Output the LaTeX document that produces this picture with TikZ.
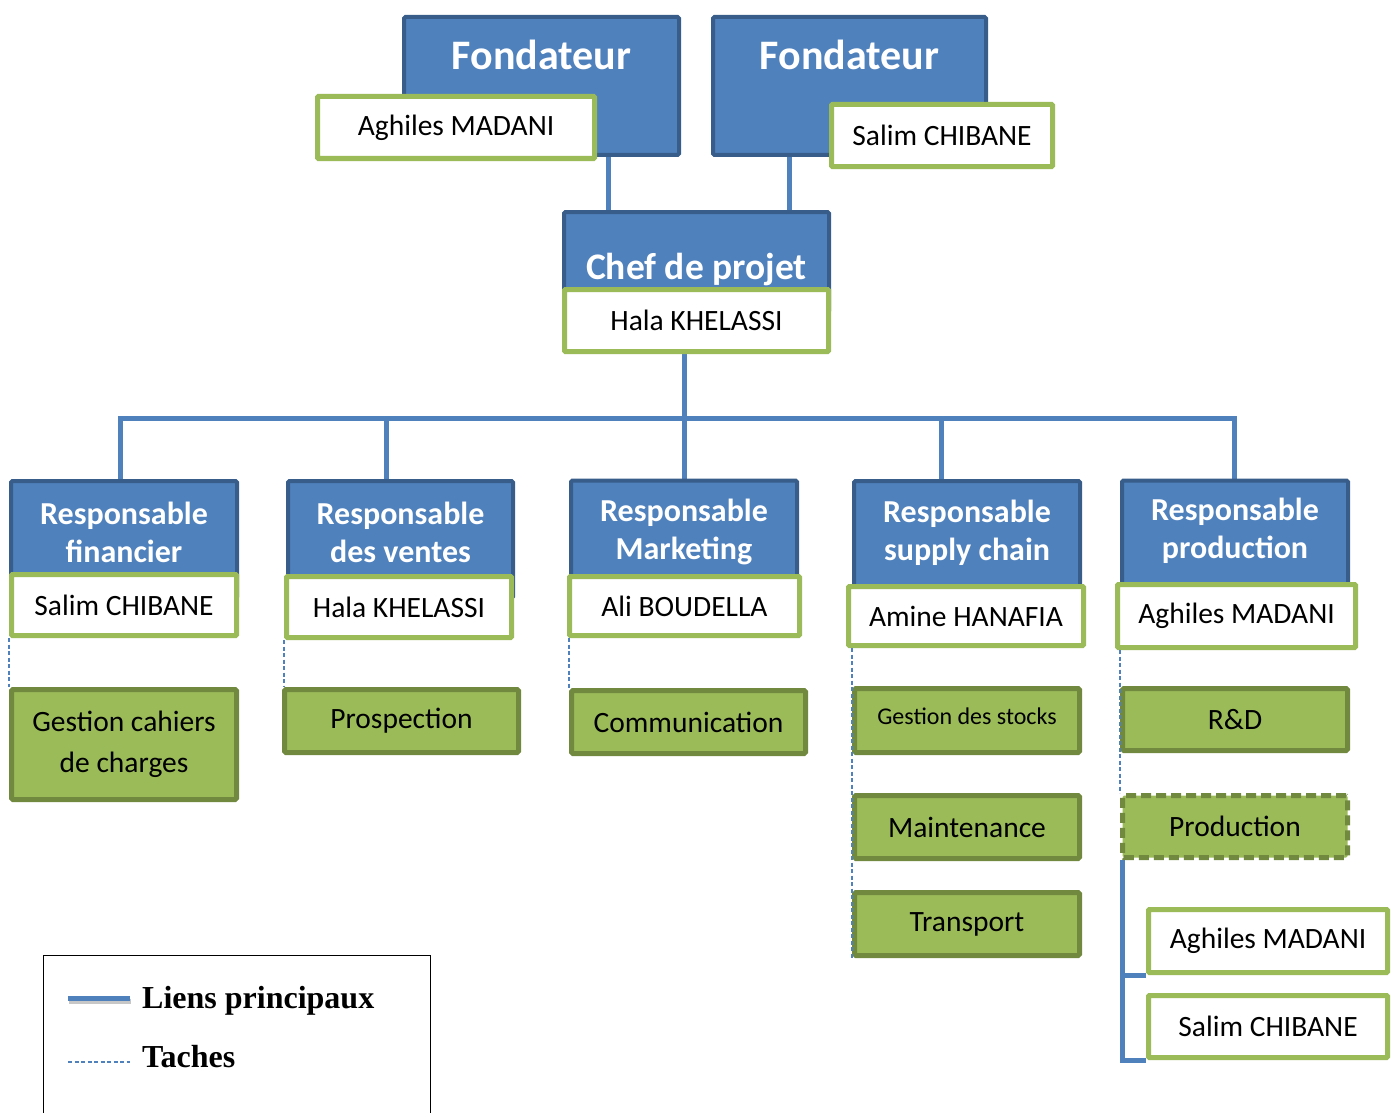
\documentclass[tikz,border=0pt]{standalone}
\usepackage{fontspec}
\setmainfont{Carlito}
\newfontfamily\legfont{Liberation Serif}
\usetikzlibrary{calc}
\definecolor{bfill}{HTML}{4F81BD}
\definecolor{bdark}{HTML}{385D8A}
\definecolor{gline}{HTML}{9BBB59}
\definecolor{tfill}{HTML}{9BBB59}
\definecolor{tdark}{HTML}{71893F}
\pgfdeclarelayer{bg}
\pgfsetlayers{bg,main}
\begin{document}
\begin{tikzpicture}[x=1pt,y=-1pt,
 bluebox/.style={draw=bdark, fill=bfill, line width=4pt, rounded corners=1.5pt, inner sep=0pt},
 namebox/.style={draw=gline, fill=white, line width=5pt, rounded corners=1pt, inner sep=0pt, font=\fontsize{29.5}{33}\selectfont},
 taskbox/.style={draw=tdark, fill=tfill, line width=5pt, rounded corners=1.5pt, inner sep=0pt, font=\fontsize{29.5}{41}\selectfont, align=center},
 btitle/.style={text=white, font=\bfseries\fontsize{32}{38}\selectfont, align=center, inner sep=0pt},
 bigtitle/.style={btitle, font=\bfseries\fontsize{42}{48}\selectfont},
 mainlink/.style={draw=bfill, line width=5pt},
 tasklink/.style={draw=bfill, line width=1.5pt, dash pattern=on 4pt off 2.5pt},
]
\useasboundingbox (0,0) rectangle (1400,1113);

% founders
\node[bluebox, minimum width=275, minimum height=138] (f1) at (541.5,86) {};
\node[bigtitle] (f1t) at (541.5,55) {Fondateur};
\node[bluebox, minimum width=273, minimum height=138] (f2) at (849.5,86) {};
\node[bigtitle] (f2t) at (849.5,55) {Fondateur};
\node[namebox, minimum width=277, minimum height=62] (n1) at (456,127.5) {Aghiles MADANI};
\node[namebox, minimum width=221, minimum height=62] (n2) at (942,135.5) {Salim CHIBANE};

% chef de projet
\node[bluebox, minimum width=265, minimum height=100] (chef) at (696.5,262) {};
\node[btitle, font=\bfseries\fontsize{37.5}{40}\selectfont] (cheft) at (696.5,270) {Chef de projet};
\node[namebox, minimum width=264, minimum height=62] (hala) at (696.5,320.5) {Hala KHELASSI};

% responsables
\node[bluebox, minimum width=226, minimum height=117] (r1) at (124,539.5) {};
\node[btitle] (r1t) at (124,532) {Responsable\\financier};
\node[namebox, minimum width=225, minimum height=61] (w1) at (124,605) {Salim CHIBANE};

\node[bluebox, minimum width=225, minimum height=117] (r2) at (400.5,539.5) {};
\node[btitle] (r2t) at (400.5,532) {Responsable\\des ventes};
\node[namebox, minimum width=225, minimum height=61] (w2) at (399,607) {Hala KHELASSI};

\node[bluebox, minimum width=226, minimum height=117] (r3) at (684,539) {};
\node[btitle] (r3t) at (684,532) {Responsable\\Marketing};
\node[namebox, minimum width=230, minimum height=59] (w3) at (684.5,606) {Ali BOUDELLA};

\node[bluebox, minimum width=226, minimum height=117] (r4) at (967,539.5) {};
\node[btitle] (r4t) at (967,533) {Responsable\\supply chain};
\node[namebox, minimum width=235, minimum height=59] (w4) at (966,616) {Amine HANAFIA};

\node[bluebox, minimum width=226, minimum height=117] (r5) at (1235,539) {};
\node[btitle] (r5t) at (1235,531) {Responsable\\production};
\node[namebox, minimum width=238, minimum height=63] (w5) at (1236.5,616) {Aghiles MADANI};

% tasks
\node[taskbox, minimum width=225, minimum height=110] (t1) at (124,744.5) {Gestion cahiers\\de charges};
\node[taskbox, minimum width=234, minimum height=63] (t2) at (401.5,721) {Prospection};
\node[taskbox, minimum width=234, minimum height=63] (t3) at (688.5,722) {Communication};
\node[taskbox, minimum width=225, minimum height=64, font=\fontsize{24}{28}\selectfont] (t4) at (967,720.5) {\raisebox{8pt}{Gestion des stocks}};
\node[taskbox, minimum width=225, minimum height=63] (t5) at (967,827) {Maintenance};
\node[taskbox, minimum width=225, minimum height=63] (t6) at (967,924) {Transport};
\node[taskbox, minimum width=225, minimum height=62] (t7) at (1235,719.5) {R\&D};
\node[taskbox, minimum width=225, minimum height=62, dash pattern=on 10pt off 5pt] (t8) at (1235,826.5) {Production};
\node[namebox, minimum width=239, minimum height=63] (p1) at (1268,941) {Aghiles MADANI};
\node[namebox, minimum width=239, minimum height=62] (p2) at (1268,1026.5) {Salim CHIBANE};

% main links
\coordinate (c1) at (608,0);
\coordinate (c2) at (789,0);
\coordinate (bL) at (120,418);
\coordinate (bR) at (1234,418);
\coordinate (b2) at (386,418);
\coordinate (b3) at (684,418);
\coordinate (b4) at (941,418);
\coordinate (pv) at ($(t8.south west)+(2,0)$);
\begin{pgfonlayer}{bg}
\draw[mainlink] (f1.south -| c1) -- (chef.north -| c1);
\draw[mainlink] (f2.south -| c2) -- (chef.north -| c2);
\draw[mainlink] (r1.north -| bL) -- (bL) -- (bR) -- (r5.north -| bR);
\draw[mainlink] (b2) -- (r2.north -| b2);
\draw[mainlink] (hala.south -| b3) -- (r3.north -| b3);
\draw[mainlink] (b4) -- (r4.north -| b4);
\draw[mainlink] (pv) -- (pv |- p2.south) -- (p2.south west);
\draw[mainlink] (pv |- p1.south) -- (p1.south west);
\end{pgfonlayer}

% task links
\draw[tasklink] (w1.south -| t1.west) -- (t1.north west);
\draw[tasklink] (w2.south west) -- (w2.south west |- t2.north);
\draw[tasklink] (w3.south -| t3.west) -- (t3.north west);
\draw[tasklink] (w4.south -| t4.west) -- (t6.south west);
\draw[tasklink] (w5.south -| t7.west) -- (t8.north west);

% legend
\node[draw=black, line width=1pt, minimum width=387, minimum height=175, anchor=north west, inner sep=0pt] (legend) at (43,955) {};
\coordinate (la) at (68,998);
\coordinate (lb) at (130,998);
\coordinate (lc) at (68,1062);
\coordinate (ld) at (130,1062);
\draw[line width=5pt, black!22] ($(la)+(1,3)$) -- ($(lb)+(1,3)$);
\draw[mainlink] (la) -- (lb);
\draw[tasklink, line width=1.2pt] (lc) -- (ld);
\node[anchor=west, inner sep=0pt, font=\legfont\bfseries\fontsize{32}{36}\selectfont] (l1) at (142,1001) {Liens principaux};
\node[anchor=west, inner sep=0pt, font=\legfont\bfseries\fontsize{32}{36}\selectfont] (l2) at (142,1057) {Taches};
\end{tikzpicture}
\end{document}
